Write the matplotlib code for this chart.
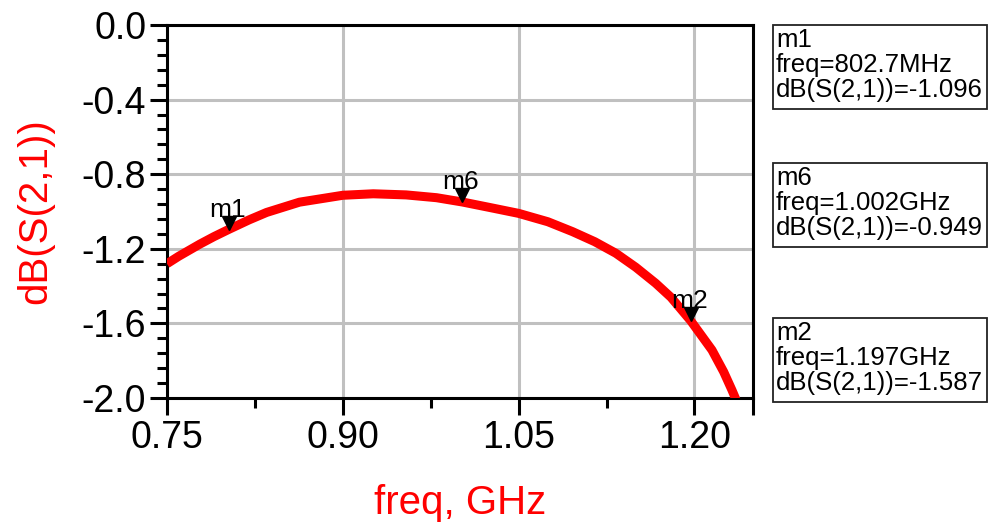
import matplotlib
matplotlib.use("Agg")
import matplotlib.pyplot as plt
import matplotlib.transforms as mtransforms
from matplotlib.patches import Rectangle
from matplotlib.ticker import MultipleLocator, FixedLocator, FuncFormatter

plt.rcParams['font.family'] = ['Liberation Sans', 'DejaVu Sans']
plt.rcParams['axes.unicode_minus'] = False

# courbe S21
freq = [0.75, 0.76, 0.778, 0.79, 0.8027, 0.82, 0.835, 0.863, 0.90, 0.926,
        0.954, 0.98, 1.002, 1.025, 1.05, 1.075, 1.096, 1.115, 1.133, 1.15,
        1.167, 1.18, 1.197, 1.215, 1.225, 1.232, 1.245]
s21 = [-1.28, -1.24, -1.175, -1.135, -1.096, -1.045, -1.005, -0.950, -0.913, -0.905,
       -0.911, -0.926, -0.949, -0.978, -1.010, -1.055, -1.108, -1.162, -1.224, -1.299,
       -1.385, -1.46, -1.587, -1.743, -1.86, -1.957, -2.15]

# marqueurs
mk_names = ["m1", "m6", "m2"]
mk_freq = [0.8027, 1.002, 1.197]
mk_val = [-1.096, -0.949, -1.587]
mk_freq_txt = ["802.7MHz", "1.002GHz", "1.197GHz"]

x_major = [0.75, 0.90, 1.05, 1.20, 1.25]
x_minor = [0.825, 0.975, 1.125]

W, H = 990, 527
fig = plt.figure(figsize=(9.9, 5.27), dpi=100)
ax = fig.add_axes([167 / W, 1 - 398 / H, (753 - 167) / W, (398 - 25) / H])

ax.plot(freq, s21, color="#ff0000", lw=6.5, solid_capstyle="butt",
        solid_joinstyle="round", zorder=3)

ax.set_xlim(0.75, 1.25)
ax.set_ylim(-2.0, 0.0)

ax.xaxis.set_major_locator(FixedLocator(x_major))
ax.xaxis.set_minor_locator(FixedLocator(x_minor))
ax.xaxis.set_major_formatter(FuncFormatter(lambda v, p: "" if abs(v - 1.25) < 1e-6 else "%.2f" % v))
ax.yaxis.set_major_locator(MultipleLocator(0.4))
ax.yaxis.set_minor_locator(MultipleLocator(0.08))
ax.yaxis.set_major_formatter(FuncFormatter(lambda v, p: "%.1f" % v))

ax.tick_params(which="major", length=12, width=2.2, labelsize=27, pad=3, color="black")
ax.tick_params(which="minor", length=7, width=2.2, color="black")
ax.tick_params(axis="x", which="major", pad=4)

ax.grid(True, which="major", color="#c0c0c0", lw=2.2)
ax.set_axisbelow(True)
for s in ax.spines.values():
    s.set_linewidth(2.2)
    s.set_color("black")

# triangles des marqueurs, pointe sur la courbe
tri = mtransforms.offset_copy(ax.transData, fig=fig, x=0, y=6.5, units="dots")
ax.plot(mk_freq, mk_val, "v", color="black", ms=9.5, transform=tri, zorder=4, clip_on=False)
for n, f, v in zip(mk_names, mk_freq, mk_val):
    ax.annotate(n, (f, v), xytext=(-1, 9), textcoords="offset points",
                ha="center", va="baseline", fontsize=19, zorder=5)

# boites des marqueurs
box_tops = [25, 163, 318]
for n, ft, v, top in zip(mk_names, mk_freq_txt, mk_val, box_tops):
    fig.patches.append(Rectangle((773 / W, 1 - (top + 84) / H), 214 / W, 84 / H,
                                 transform=fig.transFigure, fc="white", ec="#222222", lw=1.3))
    lines = [n, "freq=" + ft, "dB(S(2,1))=%.3f" % v]
    for i, t in enumerate(lines):
        fig.text(776 / W, 1 - (top + 22 + 25 * i) / H, t, fontsize=18.5, va="baseline", ha="left")

fig.text(460 / W, 1 - 503 / H, "freq, GHz", color="#ff0000", fontsize=29, ha="center", va="center")
fig.text(35 / W, 1 - 211 / H, "dB(S(2,1))", color="#ff0000", fontsize=29, rotation=90,
         ha="center", va="center")

fig.savefig("out.png", dpi=100)
